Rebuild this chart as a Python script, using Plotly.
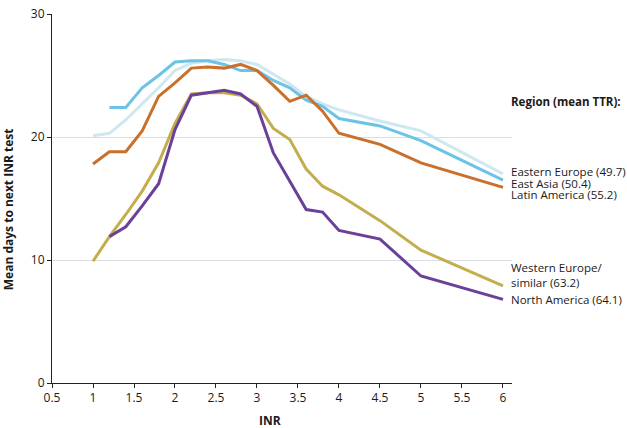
import plotly.graph_objects as go

x_full = [1.0, 1.2, 1.4, 1.6, 1.8, 2.0, 2.2, 2.4, 2.6, 2.8, 3.0, 3.2, 3.4, 3.6, 3.8, 4.0, 4.5, 5.0, 6.0]
x_from12 = x_full[1:]

eastern_europe = [20.1, 20.3, 21.4, 22.7, 24.0, 25.4, 26.0, 26.2, 26.3, 26.2, 25.9, 25.1, 24.3, 23.3, 22.7, 22.2, 21.3, 20.5, 17.0]
east_asia = [22.4, 22.4, 24.0, 25.0, 26.1, 26.2, 26.2, 25.9, 25.4, 25.4, 24.6, 24.0, 23.0, 22.5, 21.5, 20.9, 19.7, 16.5]
latin_america = [17.8, 18.8, 18.8, 20.5, 23.3, 24.4, 25.6, 25.7, 25.6, 25.9, 25.4, 24.2, 22.9, 23.4, 22.1, 20.3, 19.4, 17.9, 15.9]
western_europe = [9.9, 11.9, 13.7, 15.6, 17.9, 21.1, 23.5, 23.6, 23.6, 23.4, 22.7, 20.7, 19.8, 17.4, 16.0, 15.3, 13.2, 10.8, 7.9]
north_america = [11.9, 12.7, 14.4, 16.2, 20.6, 23.4, 23.6, 23.8, 23.5, 22.5, 18.7, 16.4, 14.1, 13.9, 12.4, 11.7, 8.7, 6.8]

series = [
    ("Eastern Europe (49.7)", x_full, eastern_europe, "#cfe8f0"),
    ("East Asia (50.4)", x_from12, east_asia, "#6cc3e6"),
    ("Latin America (55.2)", x_full, latin_america, "#c8702c"),
    ("Western Europe/similar (63.2)", x_full, western_europe, "#c3ae4e"),
    ("North America (64.1)", x_from12, north_america, "#6a4099"),
]

x_ticks = [0.5, 1, 1.5, 2, 2.5, 3, 3.5, 4, 4.5, 5, 5.5, 6]
x_tick_text = ["0.5", "1", "1.5", "2", "2.5", "3", "3.5", "4", "4.5", "5", "5.5", "6"]
y_ticks = [0, 10, 20, 30]

FONT = "Open Sans"

fig = go.Figure()
for name, xs, ys, col in series:
    fig.add_trace(go.Scatter(x=xs, y=ys, mode="lines", name=name,
                             line=dict(color=col, width=3), showlegend=False))

labels = [
    ("<b>Region (mean TTR):</b>", 22.9),
    ("Eastern Europe (49.7)", 17.2),
    ("East Asia (50.4)", 16.25),
    ("Latin America (55.2)", 15.3),
    ("Western Europe/<br>similar (63.2)", 8.8),
    ("North America (64.1)", 6.75),
]
for txt, yv in labels:
    fig.add_annotation(text=txt, xref="paper", x=1.0, xanchor="left", xshift=-3,
                       yref="y", y=yv, yanchor="middle", showarrow=False, align="left",
                       font=dict(family=FONT, size=11.5, color="#1a1a1a"))

fig.add_annotation(text="<b>INR</b>", xref="paper", x=(270 - 52) / 460, xanchor="center",
                   yref="paper", y=(383 - 421) / 378, yanchor="middle", showarrow=False,
                   font=dict(family=FONT, size=12, color="#1a1a1a"))
fig.add_annotation(text="<b>Mean days to next INR test</b>", xref="paper", x=(8 - 52) / 460,
                   xanchor="center", yref="paper", y=(383 - 205) / 378, yanchor="middle",
                   textangle=-90, showarrow=False,
                   font=dict(family=FONT, size=12, color="#1a1a1a"))

fig.update_layout(
    width=627, height=428,
    margin=dict(l=52, r=115, t=5, b=45),
    plot_bgcolor="white", paper_bgcolor="white",
    font=dict(family=FONT, size=12, color="#1a1a1a"),
    xaxis=dict(range=[0.5, 6.11], tickvals=x_ticks, ticktext=x_tick_text,
               showgrid=False, zeroline=False, showline=True, linecolor="#222",
               linewidth=1, ticks="outside", ticklen=4, tickcolor="#222",
               ticklabeloverflow="allow"),
    yaxis=dict(range=[0, 30], tickvals=y_ticks, showgrid=True, gridcolor="#dcdce6",
               gridwidth=1, zeroline=False, showline=True, linecolor="#222",
               linewidth=1, ticks="outside", ticklen=4, tickcolor="#222",
               ticklabeloverflow="allow"),
)

fig.write_html("out.html", config={"displayModeBar": False},
               post_script="document.body.style.margin='0';")
